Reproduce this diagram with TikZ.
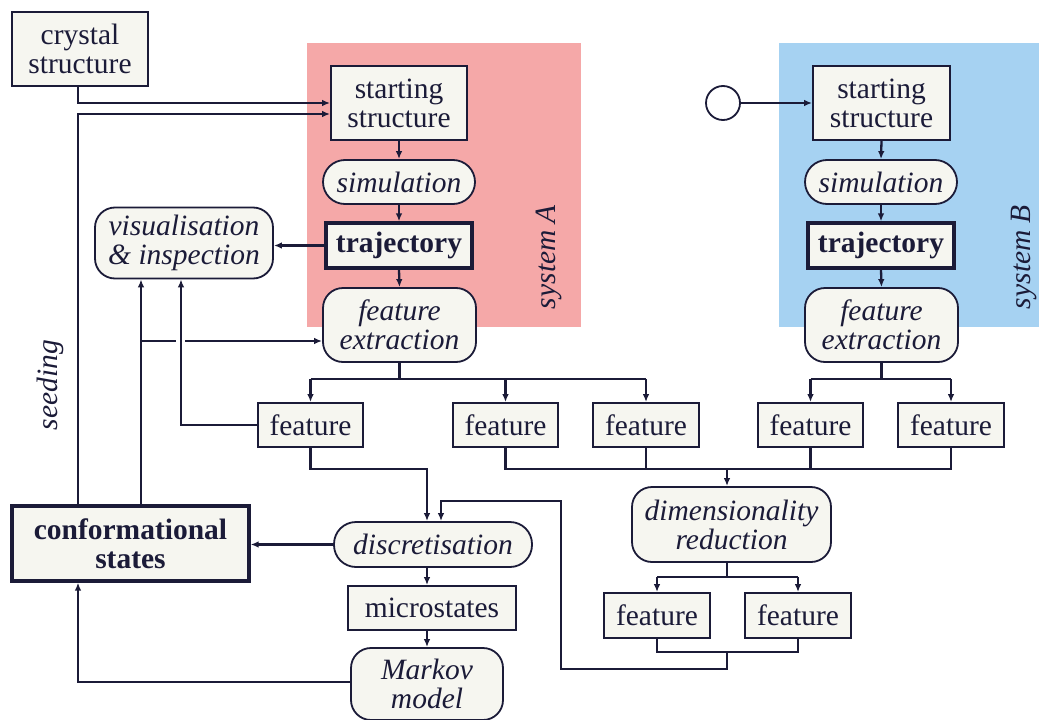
\documentclass[tikz,border=0pt]{standalone}
\usepackage{fontspec}
\setmainfont{Liberation Serif}
\usetikzlibrary{arrows.meta,calc}
\definecolor{ink}{HTML}{1B1B38}
\definecolor{boxfill}{HTML}{F6F6F0}
\definecolor{pinkA}{HTML}{F5A8A8}
\definecolor{blueB}{HTML}{A6D2F2}
\begin{document}
\begin{tikzpicture}[x=1pt,y=-1pt,
  base/.style={draw=ink, fill=boxfill, line width=1.8pt, inner sep=0pt, align=center, text=ink, font=\fontsize{29.5}{29}\selectfont},
  rectbox/.style={base},
  thickbox/.style={base, line width=3.2pt, font=\fontsize{29.5}{29}\selectfont\bfseries},
  pill/.style={base, rounded corners=22pt, font=\fontsize{29.5}{29}\selectfont\itshape},
  rbox/.style={base, rounded corners=20pt, font=\fontsize{29.5}{29}\selectfont\itshape},
  lbl/.style={inner sep=0pt, text=ink, font=\fontsize{29.5}{29}\selectfont\itshape},
  conn/.style={draw=ink, line width=2.3pt},
  arr/.style={conn, -{Latex[length=8pt,width=6.5pt]}},
  ]
\useasboundingbox (0,0) rectangle (1039,720);
\fill[white] (0,0) rectangle (1039,720);
% system backgrounds
\fill[pinkA] (307,43) rectangle (581,327);
\fill[blueB] (779,43) rectangle (1039,327);
\node[lbl, rotate=90] (labA) at (549,257) {system A};
\node[lbl, rotate=90] (labB) at (1024,257) {system B};
\node[lbl, rotate=90] (seed) at (50,385) {seeding};

% nodes
\node[rectbox, minimum width=136pt, minimum height=74pt] (crystal) at (80,49) {crystal\\structure};
\node[rectbox, minimum width=136pt, minimum height=74pt] (ssA) at (399,103) {starting\\structure};
\node[pill, minimum width=152pt, minimum height=44pt] (simA) at (399,182) {simulation};
\node[thickbox, minimum width=146pt, minimum height=45pt] (trajA) at (399,245.5) {trajectory};
\node[rbox, minimum width=153pt, minimum height=74pt] (feA) at (399.5,325) {feature\\extraction};

\node[circle, draw=ink, fill=white, line width=1.8pt, minimum size=34pt, inner sep=0pt] (start) at (723,103) {};
\node[rectbox, minimum width=137pt, minimum height=74pt] (ssB) at (881.5,103) {starting\\structure};
\node[pill, minimum width=152pt, minimum height=44pt] (simB) at (881,182) {simulation};
\node[thickbox, minimum width=146pt, minimum height=45pt] (trajB) at (881,245.5) {trajectory};
\node[rbox, minimum width=153pt, minimum height=74pt] (feB) at (881.5,325) {feature\\extraction};

\node[rbox, minimum width=178pt, minimum height=71pt] (vis) at (184,243) {visualisation\\\& inspection};

\node[rectbox, minimum width=105pt, minimum height=44pt] (f1) at (310.5,425) {feature};
\node[rectbox, minimum width=105pt, minimum height=44pt] (f2) at (505.5,425) {feature};
\node[rectbox, minimum width=106pt, minimum height=44pt] (f3) at (646,425) {feature};
\node[rectbox, minimum width=105pt, minimum height=44pt] (f4) at (810.5,425) {feature};
\node[rectbox, minimum width=106pt, minimum height=44pt] (f5) at (951,425) {feature};

\node[rbox, minimum width=199pt, minimum height=75pt] (dimred) at (731.5,524.5) {dimensionality\\reduction};
\node[rectbox, minimum width=106pt, minimum height=45pt] (f6) at (657,615.5) {feature};
\node[rectbox, minimum width=106pt, minimum height=45pt] (f7) at (798,615.5) {feature};

\node[pill, minimum width=198pt, minimum height=45pt] (disc) at (433,544.5) {discretisation};
\node[rectbox, minimum width=168pt, minimum height=44pt] (micro) at (432,608) {microstates};
\node[rbox, minimum width=152pt, minimum height=72pt] (markov) at (427,684) {Markov\\model};
\node[thickbox, minimum width=237pt, minimum height=75pt] (conf) at (130.5,543.5) {conformational\\states};

% connectors: inputs to system A
\coordinate (cA) at (78,103);
\coordinate (sA) at (78,114);
\draw[arr] (crystal.south -| cA) -- (cA) -- (ssA.west);
\draw[arr] (conf.north -| sA) -- (sA) -- (sA -| ssA.west);

% system A chain
\draw[arr] (ssA.south) -- (simA.north);
\draw[arr] (simA.south) -- (trajA.north);
\draw[arr] (trajA.south) -- (feA.north);
\draw[arr] (trajA.west) -- (trajA.west -| vis.east);

% system B chain
\draw[arr] (start.east) -- (ssB.west);
\draw[arr] (ssB.south) -- (simB.north);
\draw[arr] (simB.south) -- (trajB.north);
\draw[arr] (trajB.south) -- (feB.north);

% visualisation inputs
\coordinate (vL) at (141,341);
\coordinate (gapL) at (176,341);
\coordinate (gapR) at (185,341);
\coordinate (vR) at (181,425);
\draw[arr] (conf.north -| vL) -- (vis.south -| vL);
\draw[conn] (vL) -- (gapL);
\draw[arr] (gapR) -- (gapR -| feA.west);
\draw[arr] (f1.west) -- (vR) -- (vis.south -| vR);

% feature branches
\coordinate (bA) at (399.5,379);
\coordinate (bB) at (881.5,379);
\draw[conn] (feA.south) -- (bA);
\draw[conn] (bA -| f1) -- (bA -| f3);
\draw[arr] (bA -| f1) -- (f1.north);
\draw[arr] (bA -| f2) -- (f2.north);
\draw[arr] (bA -| f3) -- (f3.north);
\draw[conn] (feB.south) -- (bB);
\draw[conn] (bB -| f4) -- (bB -| f5);
\draw[arr] (bB -| f4) -- (f4.north);
\draw[arr] (bB -| f5) -- (f5.north);

% collect features to dimensionality reduction
\coordinate (cC) at (727,469);
\draw[conn] (f2.south) -- (f2.south |- cC) -- (f5.south |- cC) -- (f5.south);
\draw[conn] (f3.south) -- (f3.south |- cC);
\draw[conn] (f4.south) -- (f4.south |- cC);
\draw[arr] (cC) -- (cC |- dimred.north);

% f1 to discretisation
\coordinate (d1) at (427,469);
\draw[arr] (f1.south) -- (f1.south |- d1) -- (d1) -- (d1 |- disc.north);

% dimensionality reduction branch
\coordinate (bD) at (727,577);
\draw[conn] (bD |- dimred.south) -- (bD);
\draw[conn] (bD -| f6) -- (bD -| f7);
\draw[arr] (bD -| f6) -- (f6.north);
\draw[arr] (bD -| f7) -- (f7.north);

% collect to discretisation
\coordinate (c2) at (727,652);
\coordinate (c3) at (727,669);
\coordinate (c4) at (561,669);
\coordinate (c5) at (561,501);
\coordinate (c6) at (441,501);
\draw[conn] (f6.south) -- (f6.south |- c2) -- (f7.south |- c2) -- (f7.south);
\draw[arr] (c2) -- (c3) -- (c4) -- (c5) -- (c6) -- (c6 |- disc.north);

% MSM chain
\coordinate (mx) at (427,0);
\draw[arr] (disc.west) -- (disc.west -| conf.east);
\draw[arr] (mx |- disc.south) -- (mx |- micro.north);
\draw[arr] (mx |- micro.south) -- (mx |- markov.north);
\coordinate (mk) at (78,682);
\draw[arr] (markov.west |- mk) -- (mk) -- (mk |- conf.south);
\end{tikzpicture}
\end{document}
